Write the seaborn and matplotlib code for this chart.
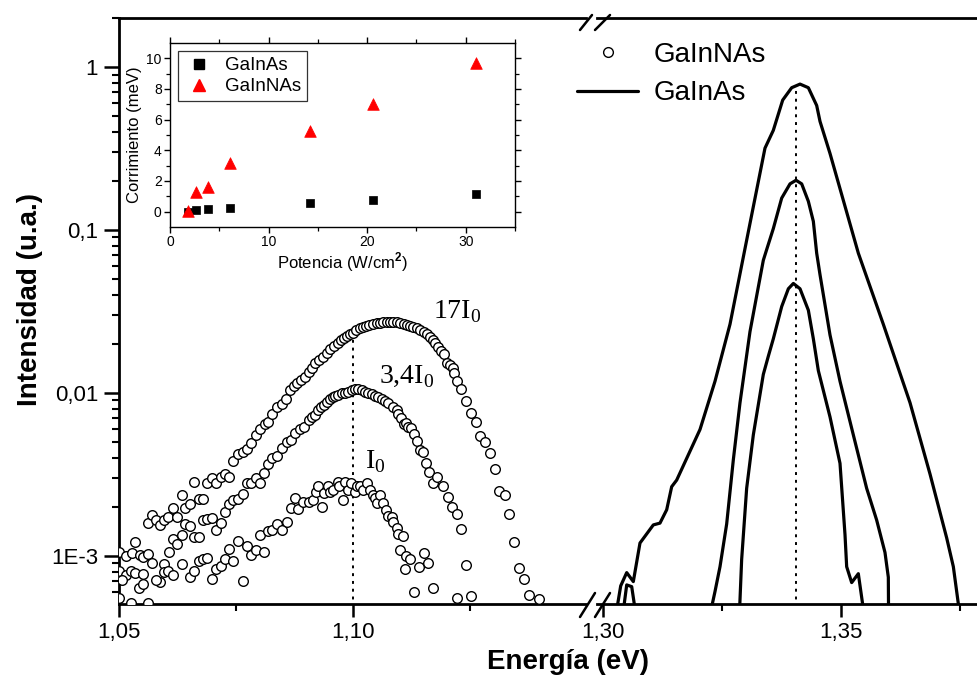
import numpy as np
import pandas as pd
import matplotlib
matplotlib.use("Agg")
import matplotlib.pyplot as plt
import seaborn as sns
from matplotlib.lines import Line2D
from matplotlib.ticker import FixedLocator, NullFormatter, LogLocator

# ---------------- data ----------------
# GaInNAs photoluminescence (scatter), three excitation powers
E_17I0 = [1.0500,1.0515,1.0527,1.0534,1.0545,1.0552,1.0561,1.0570,1.0578,1.0588,1.0597,1.0605,1.0616,1.0625,
          1.0634,1.0642,1.0652,1.0661,1.0671,1.0679,1.0689,1.0698,1.0707,1.0717,1.0726,1.0736,1.0744,1.0754,
          1.0764,1.0774,1.0782,1.0792,1.0801,1.0811,1.0819,1.0828,1.0838,1.0848,1.0857,1.0865,1.0874,1.0881,
          1.0888,1.0897,1.0905,1.0912,1.0919,1.0928,1.0935,1.0944,1.0951,1.0959,1.0967,1.0974,1.0981,1.0988,
          1.0994,1.0999,1.1006,1.1014,1.1021,1.1028,1.1035,1.1042,1.1051,1.1058,1.1065,1.1072,1.1079,1.1086,
          1.1093,1.1100,1.1108,1.1115,1.1122,1.1129,1.1136,1.1143,1.1151,1.1158,1.1165,1.1170,1.1175,1.1182,
          1.1189,1.1194,1.1200,1.1207,1.1213,1.1216,1.1222,1.1231,1.1241,1.1252,1.1262,1.1271,1.1283,1.1293,
          1.1303,1.1313,1.1325,1.1334,1.1344,1.1355,1.1365,1.1377,1.1397]
I_17I0 = [0.00106,0.00100,0.00104,0.00121,0.00101,0.000991,0.00159,0.00178,0.00166,0.00155,0.00166,0.00173,
          0.00198,0.00173,0.00236,0.00196,0.00207,0.00283,0.00225,0.00224,0.00279,0.00300,0.00282,0.00307,
          0.00317,0.00304,0.00381,0.00424,0.00434,0.00451,0.00491,0.00555,0.00598,0.00645,0.00667,0.00740,
          0.00817,0.00852,0.00914,0.01043,0.01104,0.01157,0.01202,0.01259,0.01352,0.01417,0.01521,0.01594,
          0.01671,0.01768,0.01853,0.01942,0.02036,0.02114,0.02165,0.02237,0.02301,0.02345,0.02435,0.02494,
          0.02553,0.02576,0.02613,0.02650,0.02675,0.02700,0.02726,0.02739,0.02739,0.02739,0.02713,0.02675,
          0.02650,0.02613,0.02576,0.02529,0.02494,0.02435,0.02378,0.02301,0.02216,0.02114,0.02017,0.01906,
          0.01818,0.01734,0.01535,0.01485,0.01417,0.01320,0.01191,0.01058,0.00889,0.00757,0.00664,0.00547,
          0.00503,0.00427,0.00340,0.00250,0.00237,0.00182,0.00121,0.000848,0.000723,0.000579,0.000542]

E_34I0 = [1.0499,1.0516,1.0526,1.0534,1.0552,1.0563,1.0570,1.0588,1.0597,1.0607,1.0615,1.0625,1.0634,1.0642,
          1.0652,1.0661,1.0670,1.0680,1.0689,1.0699,1.0707,1.0717,1.0726,1.0735,1.0744,1.0754,1.0764,1.0773,
          1.0782,1.0792,1.0801,1.0810,1.0819,1.0828,1.0838,1.0848,1.0858,1.0867,1.0876,1.0887,1.0896,1.0905,
          1.0912,1.0919,1.0926,1.0931,1.0937,1.0944,1.0950,1.0957,1.0962,1.0969,1.0976,1.0983,1.0990,1.0997,
          1.1004,1.1011,1.1019,1.1026,1.1033,1.1040,1.1047,1.1054,1.1061,1.1068,1.1075,1.1086,1.1093,1.1097,
          1.1102,1.1108,1.1113,1.1118,1.1125,1.1130,1.1136,1.1143,1.1149,1.1156,1.1163,1.1170,1.1179,1.1192,
          1.1202,1.1211,1.1222,1.1231,1.1241,1.1222,1.1252]
I_34I0 = [0.000813,0.000764,0.000813,0.000790,0.000775,0.00103,0.000910,0.000696,0.000893,0.00105,0.00127,
          0.00118,0.00134,0.00156,0.00153,0.00130,0.00131,0.00166,0.00168,0.00172,0.00144,0.00159,0.00187,
          0.00208,0.00221,0.00223,0.00240,0.00279,0.00282,0.00300,0.00282,0.00321,0.00367,0.00397,0.00412,
          0.00458,0.00498,0.00515,0.00571,0.00598,0.00622,0.00683,0.00716,0.00733,0.00786,0.00824,0.00844,
          0.00885,0.00914,0.00941,0.00958,0.00972,0.00995,0.01005,0.01019,0.01043,0.01053,0.01053,0.01043,
          0.01019,0.01005,0.00986,0.00958,0.00941,0.00914,0.00897,0.00873,0.00817,0.00786,0.00743,0.00699,
          0.00645,0.00652,0.00616,0.00607,0.00560,0.00510,0.00447,0.00437,0.00374,0.00329,0.00282,0.00307,
          0.00270,0.00229,0.00199,0.00181,0.00146,0.000881,0.000555,0.000568]

E_I0 = [1.0499,1.0507,1.0525,1.0543,1.0552,1.0561,1.0579,1.0597,1.0605,1.0615,1.0634,1.0652,1.0661,1.0671,
        1.0680,1.0689,1.0698,1.0707,1.0717,1.0726,1.0736,1.0744,1.0755,1.0764,1.0773,1.0782,1.0792,1.0801,
        1.0810,1.0819,1.0828,1.0838,1.0848,1.0858,1.0867,1.0876,1.0883,1.0894,1.0905,1.0914,1.0921,1.0926,
        1.0933,1.0938,1.0947,1.0951,1.0958,1.0967,1.0971,1.0978,1.0983,1.0990,1.0995,1.1004,1.1009,1.1015,
        1.1022,1.1031,1.1036,1.1042,1.1047,1.1052,1.1058,1.1065,1.1071,1.1075,1.1083,1.1086,1.1093,1.1097,
        1.1106,1.1100,1.1113,1.1122,1.1111,1.1142,1.1152,1.1161,1.1130,1.1172]
I_I0 = [0.000550,0.000713,0.000512,0.000633,0.000673,0.000512,0.000713,0.000801,0.000813,0.000764,0.000893,
        0.000747,0.000813,0.000932,0.000963,0.000968,0.000723,0.000832,0.000873,0.000963,0.00111,0.000932,
        0.00124,0.000703,0.00115,0.00101,0.00109,0.00134,0.00105,0.00143,0.00144,0.00157,0.00144,0.00162,
        0.00196,0.00227,0.00193,0.00215,0.00215,0.00219,0.00248,0.00269,0.00201,0.00245,0.00269,0.00248,
        0.00254,0.00286,0.00269,0.00219,0.00286,0.00254,0.00279,0.00248,0.00269,0.00269,0.00254,0.00279,
        0.00254,0.00237,0.00226,0.00210,0.00237,0.00210,0.00192,0.00176,0.00174,0.00162,0.00148,0.00136,
        0.00133,0.00108,0.00100,0.000954,0.000828,0.000852,0.00104,0.000902,0.000604,0.000633]

# GaInAs photoluminescence (lines)
E_as_17I0 = [1.3025,1.30372,1.30498,1.30637,1.30777,1.31057,1.31197,1.31338,1.31443,1.31548,1.32038,1.32353,
             1.32668,1.33053,1.33403,1.33578,1.33775,1.33964,1.34139,1.34314,1.34489,1.34559,1.34769,1.35364,
             1.35889,1.36450,1.36870,1.37220,1.37360,1.37465,1.3755]
I_as_17I0 = [0.0004,0.000655,0.000790,0.000696,0.00120,0.00155,0.00159,0.00192,0.00266,0.00292,0.00597,0.0118,
             0.0264,0.0975,0.318,0.409,0.627,0.747,0.786,0.747,0.581,0.464,0.295,0.0721,0.0264,0.00871,0.00318,
             0.00129,0.000859,0.000508,0.0004]
E_as_34I0 = [1.3040,1.30498,1.30603,1.3071,1.3222,1.32353,1.32458,1.32598,1.32738,1.32878,1.33088,1.33368,
             1.33438,1.33578,1.33754,1.33929,1.34055,1.34174,1.34314,1.34419,1.34489,1.34559,1.34769,1.34979,
             1.35259,1.35539,1.35749,1.35924,1.35994,1.3600]
I_as_34I0 = [0.0004,0.000664,0.000648,0.0004,0.0004,0.000605,0.000859,0.00157,0.00389,0.00871,0.0238,0.0652,
             0.0758,0.102,0.157,0.192,0.202,0.192,0.150,0.113,0.0721,0.0532,0.0227,0.0118,0.00553,0.00260,
             0.00166,0.00105,0.000740,0.0004]
E_as_I0 = [1.3286,1.32913,1.33018,1.33158,1.33368,1.33473,1.33578,1.33754,1.33894,1.33999,1.34139,1.34314,
           1.34419,1.34524,1.34769,1.34979,1.35084,1.35119,1.35224,1.35364,1.35504]
I_as_I0 = [0.0004,0.000952,0.00260,0.00553,0.0130,0.0168,0.0215,0.0339,0.0436,0.0470,0.0436,0.0322,0.0215,
           0.0137,0.00713,0.00370,0.00135,0.000859,0.000686,0.000778,0.0004]

pico_GaInNAs = 1.100
tope_GaInNAs = 0.0227
pico_GaInAs = 1.3405
tope_GaInAs = 0.75

# inset: shift vs power
potencia = [1.8, 2.6, 3.9, 6.1, 14.2, 20.6, 31.0]
corr_GaInAs = [0.0, 0.1, 0.17, 0.24, 0.57, 0.76, 1.17]
corr_GaInNAs = [0.05, 1.28, 1.59, 3.2, 5.26, 7.0, 9.67]

ytick_vals = [1e-3, 1e-2, 1e-1, 1]
ytick_labels = ["1E-3", "0,01", "0,1", "1"]
xtick_left = [1.05, 1.10]
xtick_left_lab = ["1,05", "1,10"]
xtick_right = [1.30, 1.35]
xtick_right_lab = ["1,30", "1,35"]

# ---------------- style ----------------
sns.set_style("ticks")
plt.rcParams["font.family"] = ["Liberation Sans", "DejaVu Sans"]
plt.rcParams["mathtext.fontset"] = "custom"
plt.rcParams["mathtext.rm"] = "Liberation Serif"
plt.rcParams["mathtext.bf"] = "Liberation Sans:bold"
for key in ["text.color", "axes.labelcolor", "xtick.color", "ytick.color", "axes.edgecolor"]:
    plt.rcParams[key] = "black"

W, H = 977, 684
fig = plt.figure(figsize=(W / 100, H / 100), dpi=100)
fig.patch.set_facecolor("white")

def fx(px):
    return px / W

def fy(py):
    return 1 - py / H

axL = fig.add_axes([fx(119), fy(604), fx(586) - fx(119), fy(18) - fy(604)])
axR = fig.add_axes([fx(597), fy(604), fx(977) - fx(597), fy(18) - fy(604)], sharey=axL)

axL.set_yscale("log")

df_nas = pd.concat([
    pd.DataFrame({"E": E_17I0, "I": I_17I0, "serie": "17I0"}),
    pd.DataFrame({"E": E_34I0, "I": I_34I0, "serie": "3,4I0"}),
    pd.DataFrame({"E": E_I0, "I": I_I0, "serie": "I0"}),
], ignore_index=True)

df_as = pd.concat([
    pd.DataFrame({"E": E_as_17I0, "I": I_as_17I0, "curva": "17I0"}),
    pd.DataFrame({"E": E_as_34I0, "I": I_as_34I0, "curva": "3,4I0"}),
    pd.DataFrame({"E": E_as_I0, "I": I_as_I0, "curva": "I0"}),
], ignore_index=True)

sns.scatterplot(data=df_nas, x="E", y="I", ax=axL, marker="o", s=48, color="white",
                edgecolor="black", linewidth=1.0, legend=False, zorder=3)
sns.lineplot(data=df_as, x="E", y="I", units="curva", estimator=None, sort=False,
             color="black", linewidth=2.3, ax=axR, legend=False)

axL.vlines(pico_GaInNAs, 1e-4, tope_GaInNAs, colors="black", linestyles=(0, (1.5, 2.5)), linewidth=1.4)
axR.vlines(pico_GaInAs, 1e-4, tope_GaInAs, colors="black", linestyles=(0, (1.5, 2.5)), linewidth=1.4)

axL.set_ylim(5.07e-4, 2.0)
axL.set_xlim(1.05, 1.14979)
axR.set_xlim(1.29874, 1.37857)

for ax in (axL, axR):
    for s in ax.spines.values():
        s.set_linewidth(2.0)
        s.set_color("black")
    ax.set_xlabel("")
    ax.set_ylabel("")
    ax.tick_params(axis="both", which="major", direction="out", length=9, width=1.8,
                   labelsize=16, pad=4, colors="black")
    ax.tick_params(axis="both", which="minor", direction="out", length=5, width=1.5, colors="black")

axL.spines["right"].set_visible(False)
axR.spines["left"].set_visible(False)
axR.spines["right"].set_visible(False)

axL.yaxis.set_major_locator(FixedLocator(ytick_vals))
axL.set_yticklabels(ytick_labels)
axL.yaxis.set_minor_locator(LogLocator(base=10, subs=np.arange(2, 10)))
axL.yaxis.set_minor_formatter(NullFormatter())
axL.tick_params(axis="y", which="major", length=11)
axR.tick_params(axis="y", which="both", left=False, labelleft=False, right=False)

axL.set_xticks(xtick_left)
axL.set_xticklabels(xtick_left_lab)
axL.xaxis.set_minor_locator(FixedLocator([1.075, 1.125]))
axR.set_xticks(xtick_right)
axR.set_xticklabels(xtick_right_lab)
axR.xaxis.set_minor_locator(FixedLocator([1.325, 1.375]))

# annotations (Times-like serif)
axL.text(1.1170, 0.0289, r"17I$_{0}$", family="Liberation Serif", fontsize=20, ha="left", va="baseline")
axL.text(1.1056, 0.0115, r"3,4I$_{0}$", family="Liberation Serif", fontsize=20, ha="left", va="baseline")
axL.text(1.1026, 0.00347, r"I$_{0}$", family="Liberation Serif", fontsize=20, ha="left", va="baseline")

# axis labels
fig.text(fx(568), fy(662), "Energía (eV)", fontsize=20, fontweight="bold", ha="center", va="center")
fig.text(fx(30), fy(300), "Intensidad (u.a.)", fontsize=20, fontweight="bold", ha="center",
         va="center", rotation=90)

# break marks
for (x0, y0, x1, y1) in [(580, 617, 595, 593), (595, 617, 610, 593), (580, 30, 592, 15), (595, 30, 610, 15)]:
    fig.add_artist(Line2D([fx(x0), fx(x1)], [fy(y0), fy(y1)], color="black", lw=1.8,
                          transform=fig.transFigure))

# main legend
h1 = Line2D([], [], marker="o", linestyle="None", markerfacecolor="white", markeredgecolor="black",
            markersize=7, markeredgewidth=1.0)
h2 = Line2D([], [], color="black", lw=2.3)
fig.legend([h1, h2], ["GaInNAs", "GaInAs"], loc="upper left", bbox_to_anchor=(fx(577), fy(42)),
           frameon=False, fontsize=20, handlelength=2.2, handletextpad=0.55, labelspacing=0.45,
           borderpad=0, borderaxespad=0)

# ---------------- inset ----------------
axI = fig.add_axes([fx(170), fy(227), fx(515) - fx(170), fy(43) - fy(227)])
df_in_as = pd.DataFrame({"P": potencia, "C": corr_GaInAs})
df_in_nas = pd.DataFrame({"P": potencia, "C": corr_GaInNAs})
sns.scatterplot(data=df_in_as, x="P", y="C", ax=axI, marker="s", s=40, color="black",
                edgecolor="black", linewidth=0.5, legend=False, zorder=3)
sns.scatterplot(data=df_in_nas, x="P", y="C", ax=axI, marker="^", s=70, color="red",
                edgecolor="red", linewidth=0.5, legend=False, zorder=3)
axI.set_xlim(0, 35)
axI.set_ylim(-1, 11)
axI.set_xticks([0, 10, 20, 30])
axI.xaxis.set_minor_locator(FixedLocator([5, 15, 25, 35]))
axI.set_yticks([0, 2, 4, 6, 8, 10])
axI.yaxis.set_minor_locator(FixedLocator([1, 3, 5, 7, 9]))
for s in axI.spines.values():
    s.set_linewidth(1.0)
    s.set_visible(True)
    s.set_color("black")
axI.tick_params(axis="both", which="major", direction="out", length=4, width=1.0, labelsize=10,
                pad=2, top=True, right=True, colors="black")
axI.tick_params(axis="both", which="minor", direction="out", length=3, width=0.9, top=True, right=True,
                colors="black")
axI.set_xlabel(r"Potencia (W/cm$^\mathbf{2}$)", fontsize=12, labelpad=1)
axI.set_ylabel("Corrimiento (meV)", fontsize=12, labelpad=3)

hi1 = Line2D([], [], marker="s", linestyle="None", color="black", markersize=6.5)
hi2 = Line2D([], [], marker="^", linestyle="None", color="red", markersize=8)
leg = axI.legend([hi1, hi2], ["GaInAs", "GaInNAs"], loc="upper left", fontsize=13.5, frameon=True,
                 fancybox=False, edgecolor="black", borderpad=0.3, borderaxespad=0.45,
                 handlelength=1.6, handletextpad=0.6, labelspacing=0.2)
leg.get_frame().set_linewidth(0.9)

fig.savefig("out.png", dpi=100)
